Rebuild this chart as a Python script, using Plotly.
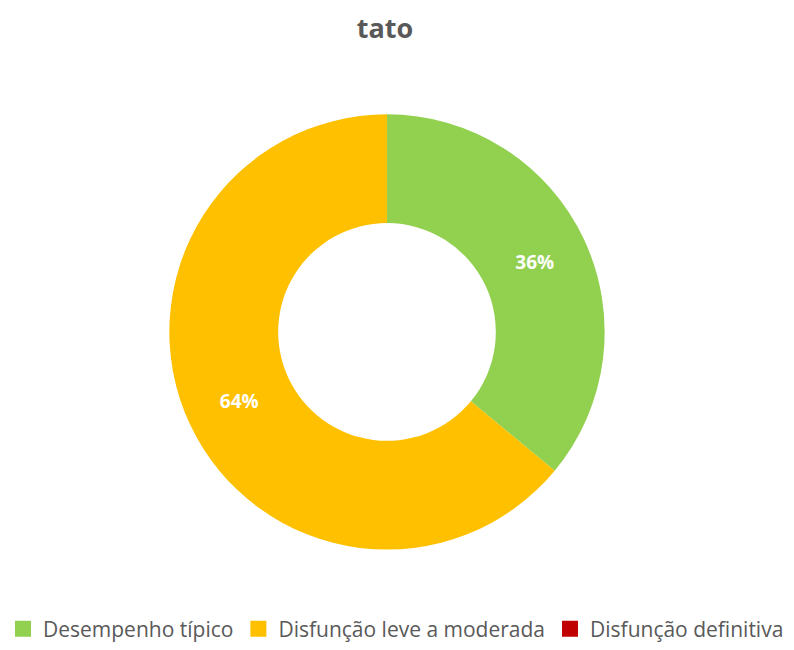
import plotly.graph_objects as go

# Sensory profile result for the "tato" (touch) domain
categories = ["Desempenho típico", "Disfunção leve a moderada", "Disfunção definitiva"]
values = [36, 64, 0]
colors = ["#92D050", "#FFC000", "#C00000"]
title_text = "tato"

W, H = 794, 650
cx, cy, r = 387, 334, 219
hole = 109.5 / r

labels_tpl = ["%{percent:.0%}" if v > 0 else "" for v in values]

fig = go.Figure()

fig.add_trace(
    go.Pie(
        labels=categories,
        values=values,
        hole=hole,
        sort=False,
        direction="clockwise",
        rotation=0,
        marker=dict(colors=colors, line=dict(width=0)),
        texttemplate=labels_tpl,
        textposition="inside",
        insidetextorientation="horizontal",
        textfont=dict(family="Open Sans", size=19, color="white", weight="bold"),
        domain=dict(x=[(cx - r) / W, (cx + r) / W], y=[(H - cy - r) / H, (H - cy + r) / H]),
        hoverinfo="label+percent",
        showlegend=False,
    )
)

# Legend entries with larger square swatches, one per category
for name, color in zip(categories, colors):
    fig.add_trace(
        go.Scatter(
            x=[None],
            y=[None],
            mode="markers",
            name=name,
            marker=dict(symbol="square", size=16, color=color),
            hoverinfo="skip",
        )
    )

fig.update_layout(
    width=W,
    height=H,
    margin=dict(l=0, r=0, t=0, b=0),
    paper_bgcolor="white",
    plot_bgcolor="white",
    xaxis=dict(visible=False),
    yaxis=dict(visible=False),
    title=dict(
        text=title_text,
        x=385 / W,
        xanchor="center",
        y=1 - 29 / H,
        yanchor="middle",
        font=dict(family="Open Sans", size=27, color="#595959", weight="bold"),
    ),
    showlegend=True,
    legend=dict(
        orientation="h",
        x=3 / W,
        xanchor="left",
        y=1 - 633 / H,
        yanchor="middle",
        font=dict(family="Open Sans", size=21, color="#595959"),
        itemclick=False,
        itemdoubleclick=False,
    ),
)

fig.write_html("out.html")
